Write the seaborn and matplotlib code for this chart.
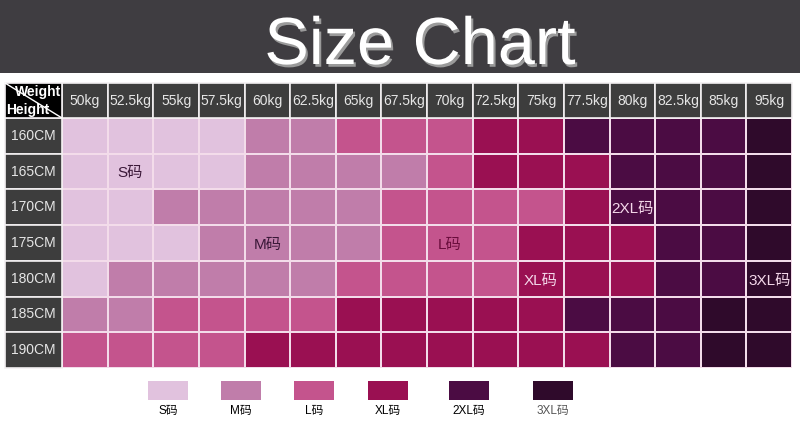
import pandas as pd
import seaborn as sns
import matplotlib.pyplot as plt
import matplotlib.patheffects as pe
from matplotlib.colors import ListedColormap
from matplotlib.patches import Rectangle

# Data

heights = ["160CM", "165CM", "170CM", "175CM", "180CM", "185CM", "190CM"]
weights = ["50kg", "52.5kg", "55kg", "57.5kg", "60kg", "62.5kg", "65kg", "67.5kg",
           "70kg", "72.5kg", "75kg", "77.5kg", "80kg", "82.5kg", "85kg", "95kg"]
sizes = ["S码", "M码", "L码", "XL码", "2XL码", "3XL码"]

# 0=S 1=M 2=L 3=XL 4=2XL 5=3XL
size_grid = [
    [0, 0, 0, 0, 1, 1, 2, 2, 2, 3, 3, 4, 4, 4, 4, 5],
    [0, 0, 0, 0, 1, 1, 1, 1, 2, 3, 3, 3, 4, 4, 4, 5],
    [0, 0, 1, 1, 1, 1, 1, 2, 2, 2, 2, 3, 4, 4, 4, 5],
    [0, 0, 0, 1, 1, 1, 1, 2, 2, 2, 3, 3, 3, 4, 4, 5],
    [0, 1, 1, 1, 1, 1, 2, 2, 2, 2, 3, 3, 3, 4, 4, 5],
    [1, 1, 2, 2, 2, 2, 3, 3, 3, 3, 3, 4, 4, 4, 5, 5],
    [2, 2, 2, 2, 3, 3, 3, 3, 3, 3, 3, 3, 4, 4, 5, 5],
]

# which cell carries each size name
label_cells = {
    "S码": ("165CM", "52.5kg"),
    "M码": ("175CM", "60kg"),
    "L码": ("175CM", "70kg"),
    "XL码": ("180CM", "75kg"),
    "2XL码": ("170CM", "80kg"),
    "3XL码": ("180CM", "95kg"),
}

size_colors = ["#e1c2de", "#c07daa", "#c4548d", "#9a1052", "#4b0c43", "#2f0a2b"]
label_colors = ["#3a1838", "#3a1838", "#6a0d3c", "#f4d8ea", "#f4d8ea", "#f4d8ea"]

plt.rcParams["font.family"] = ["Liberation Sans", "Noto Sans CJK SC", "DejaVu Sans"]

W, H = 800, 430
fig = plt.figure(figsize=(W / 100, H / 100), dpi=100)


def fx(px):
    return px / W


def fy(py):
    return 1 - py / H


# Title band

fig.patches.append(Rectangle((0, fy(73)), 1, 73 / H, transform=fig.transFigure,
                             facecolor="#3f3d41", edgecolor="none"))
fig.text(fx(420), fy(64), "Size Chart", ha="center", va="baseline",
         fontsize=48, color="white",
         path_effects=[pe.withSimplePatchShadow(offset=(1.5, -2), shadow_rgbFace="#9a9a9a", alpha=1)])

# Heatmap of sizes

df = pd.DataFrame(size_grid, index=heights, columns=weights)

ax = fig.add_axes([fx(62), fy(368), fx(792) - fx(62), (368 - 118) / H])
sns.heatmap(
    df,
    cmap=ListedColormap(size_colors),
    vmin=-0.5,
    vmax=len(sizes) - 0.5,
    cbar=False,
    linewidths=1.3,
    linecolor="#f3dcea",
    xticklabels=False,
    yticklabels=False,
    ax=ax,
)
ax.set_xlabel("")
ax.set_ylabel("")

grid_line = "#f3f0f2"

# header row (weights)
for j, w in enumerate(weights):
    ax.add_patch(Rectangle((j, -0.98), 1, 0.98, facecolor="#3d3d3d",
                           edgecolor=grid_line, linewidth=1.2, clip_on=False))
    ax.text(j + 0.5, -0.49, w, ha="center", va="center", fontsize=10,
            color="#e6e6e6", clip_on=False)

# first column (heights)
corner_w = 57 / 45.6
for i, h in enumerate(heights):
    ax.add_patch(Rectangle((-corner_w, i), corner_w, 1, facecolor="#3d3d3d",
                           edgecolor=grid_line, linewidth=1.2, clip_on=False))
    ax.text(-corner_w / 2, i + 0.5, h, ha="center", va="center", fontsize=10,
            color="#e6e6e6", clip_on=False)

# corner cell
ax.add_patch(Rectangle((-corner_w, -0.98), corner_w, 0.98, facecolor="black",
                       edgecolor=grid_line, linewidth=1.2, clip_on=False))
ax.plot([-corner_w, 0], [-0.98, 0], color="white", linewidth=1, clip_on=False)
ax.text(-0.02, -0.72, "Weight", ha="right", va="center", fontsize=10,
        fontweight="bold", color="white", clip_on=False)
ax.text(-corner_w + 0.03, -0.22, "Height", ha="left", va="center", fontsize=10,
        fontweight="bold", color="white", clip_on=False)

# size names inside the grid
for k, s in enumerate(sizes):
    row, col = label_cells[s]
    ax.text(weights.index(col) + 0.5, heights.index(row) + 0.55, s,
            ha="center", va="center", fontsize=11, color=label_colors[k])

# Legend

legend_x = [148, 221, 294, 368, 449, 533]
for k, s in enumerate(sizes):
    fig.patches.append(Rectangle((fx(legend_x[k]), fy(400)), 40 / W, 19 / H,
                                 transform=fig.transFigure,
                                 facecolor=size_colors[k], edgecolor="none"))
    fig.text(fx(legend_x[k] + 20), fy(411), s, ha="center", va="center",
             fontsize=8.5, color="#555555" if k == 5 else "black")

fig.savefig("out.png", dpi=100)
